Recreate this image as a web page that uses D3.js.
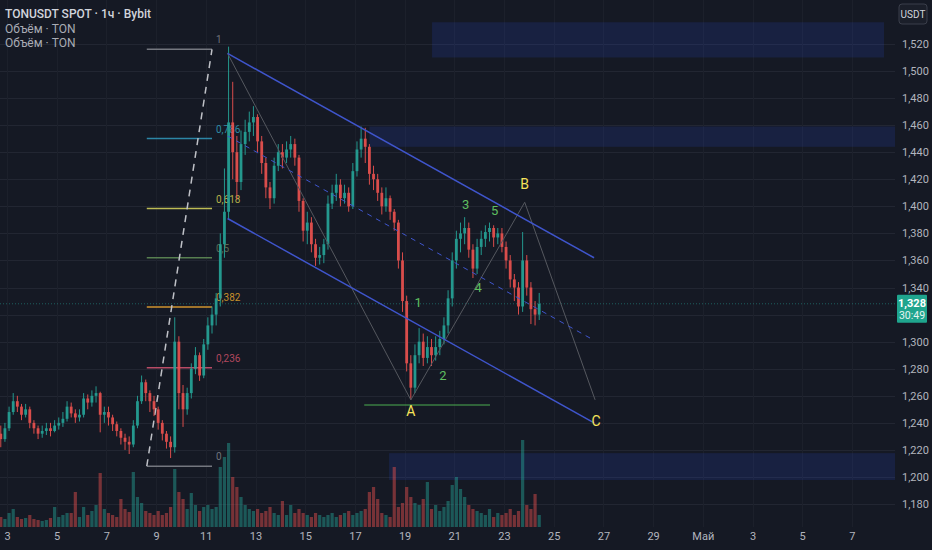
<!DOCTYPE html>
<html>
<head>
<meta charset="utf-8">
<style>
    body { margin: 0; background: #151924; }
    svg text { font-family: Roboto, "Noto Sans", sans-serif; }
    .axis text { fill: #b2b5be; font-size: 11px; }
    .axis path { display: none; }
</style>
<script src="https://d3js.org/d3.v7.min.js"></script>
</head>
<body>
<svg width="932" height="550"></svg>
<script>
// 4h bars, first bar opens Apr 2 16:00
var firstOpen = 1.232;
var closes = [
    1.228, 1.236,
    1.248, 1.256, 1.252, 1.246, 1.250, 1.240,
    1.236, 1.232, 1.234, 1.236, 1.234, 1.238,
    1.240, 1.243, 1.252, 1.247, 1.244, 1.246,
    1.258, 1.255, 1.260, 1.262, 1.246, 1.248,
    1.244, 1.239, 1.234, 1.229, 1.226, 1.224,
    1.238, 1.256, 1.270, 1.262, 1.256, 1.250,
    1.240, 1.232, 1.226, 1.222, 1.300, 1.262,
    1.250, 1.262, 1.280, 1.290, 1.275, 1.298,
    1.312, 1.320, 1.332, 1.372, 1.396, 1.462,
    1.440, 1.418, 1.446, 1.455, 1.462, 1.466,
    1.448, 1.432, 1.414, 1.406, 1.430, 1.440,
    1.436, 1.442, 1.446, 1.436, 1.404, 1.382,
    1.388, 1.372, 1.362, 1.364, 1.372, 1.402,
    1.410, 1.416, 1.406, 1.410, 1.400, 1.426,
    1.442, 1.450, 1.444, 1.424, 1.420, 1.410,
    1.400, 1.406, 1.396, 1.388, 1.360, 1.330,
    1.284, 1.266, 1.290, 1.300, 1.288, 1.296,
    1.290, 1.296, 1.302, 1.312, 1.332, 1.360,
    1.376, 1.380, 1.384, 1.368, 1.354, 1.370,
    1.376, 1.381, 1.384, 1.377, 1.380, 1.370,
    1.360, 1.346, 1.340, 1.326, 1.360, 1.340,
    1.324, 1.320, 1.328
];
var highs = [
    1.238, 1.240,
    1.252, 1.262, 1.260, 1.254, 1.254, 1.252,
    1.242, 1.238, 1.238, 1.240, 1.240, 1.242,
    1.244, 1.248, 1.256, 1.255, 1.250, 1.250,
    1.262, 1.261, 1.264, 1.267, 1.263, 1.252,
    1.252, 1.246, 1.241, 1.236, 1.232, 1.230,
    1.242, 1.260, 1.275, 1.272, 1.264, 1.260,
    1.252, 1.242, 1.234, 1.230, 1.318, 1.304,
    1.268, 1.266, 1.284, 1.296, 1.292, 1.302,
    1.318, 1.326, 1.336, 1.380, 1.428, 1.518,
    1.492, 1.452, 1.456, 1.464, 1.470, 1.474,
    1.468, 1.452, 1.436, 1.418, 1.436, 1.446,
    1.446, 1.448, 1.452, 1.450, 1.438, 1.406,
    1.396, 1.392, 1.376, 1.370, 1.376, 1.408,
    1.416, 1.424, 1.420, 1.416, 1.414, 1.432,
    1.448, 1.459, 1.458, 1.446, 1.430, 1.424,
    1.414, 1.414, 1.408, 1.398, 1.390, 1.366,
    1.334, 1.290, 1.298, 1.310, 1.306, 1.304,
    1.302, 1.304, 1.308, 1.318, 1.338, 1.366,
    1.382, 1.388, 1.392, 1.388, 1.372, 1.376,
    1.382, 1.386, 1.388, 1.386, 1.384, 1.384,
    1.374, 1.364, 1.350, 1.344, 1.381, 1.364,
    1.344, 1.330, 1.336
];
var lows = [
    1.222, 1.226,
    1.234, 1.246, 1.248, 1.242, 1.244, 1.236,
    1.232, 1.228, 1.229, 1.231, 1.230, 1.233,
    1.235, 1.237, 1.241, 1.244, 1.240, 1.241,
    1.244, 1.250, 1.252, 1.255, 1.233, 1.240,
    1.238, 1.234, 1.230, 1.224, 1.220, 1.217,
    1.222, 1.236, 1.254, 1.256, 1.248, 1.245,
    1.235, 1.227, 1.221, 1.214, 1.218, 1.250,
    1.237, 1.246, 1.258, 1.276, 1.271, 1.273,
    1.294, 1.306, 1.312, 1.326, 1.362, 1.390,
    1.420, 1.405, 1.412, 1.438, 1.448, 1.452,
    1.440, 1.424, 1.406, 1.398, 1.402, 1.426,
    1.428, 1.432, 1.436, 1.430, 1.396, 1.374,
    1.372, 1.366, 1.356, 1.357, 1.358, 1.368,
    1.398, 1.404, 1.400, 1.402, 1.396, 1.398,
    1.422, 1.436, 1.432, 1.416, 1.412, 1.404,
    1.394, 1.396, 1.390, 1.382, 1.354, 1.322,
    1.278, 1.257, 1.262, 1.284, 1.282, 1.284,
    1.282, 1.286, 1.290, 1.298, 1.306, 1.326,
    1.354, 1.366, 1.372, 1.362, 1.347, 1.350,
    1.364, 1.370, 1.374, 1.370, 1.372, 1.366,
    1.354, 1.340, 1.330, 1.320, 1.322, 1.334,
    1.313, 1.312, 1.316
];
var volumes = [
    10, 8,
    14, 18, 10, 8, 9, 12,
    8, 7, 6, 7, 9, 20,
    10, 12, 14, 14, 35, 10,
    20, 12, 16, 22, 54, 18,
    14, 12, 10, 28, 18, 15,
    55, 30, 24, 16, 14, 12,
    16, 12, 14, 20, 58, 35,
    28, 18, 34, 22, 16, 20,
    22, 18, 20, 60, 70, 84,
    50, 40, 30, 22, 18, 16,
    18, 14, 16, 20, 14, 12,
    26, 12, 22, 14, 18, 14,
    12, 10, 14, 12, 10, 12,
    14, 10, 12, 14, 16, 12,
    14, 16, 18, 35, 40, 28,
    14, 12, 10, 60, 20, 24,
    40, 30, 24, 22, 28, 45,
    18, 22, 16, 20, 26, 42,
    50, 38, 30, 22, 18, 16,
    14, 12, 18, 10, 14, 12,
    14, 18, 12, 16, 87, 22,
    18, 33, 12
];

var priceTicks = [1.18, 1.20, 1.22, 1.24, 1.26, 1.28, 1.30, 1.32, 1.34, 1.36, 1.38, 1.40, 1.42, 1.44, 1.46, 1.48, 1.50, 1.52];
var tickDates = ["2026-04-03", "2026-04-05", "2026-04-07", "2026-04-09", "2026-04-11", "2026-04-13", "2026-04-15",
                 "2026-04-17", "2026-04-19", "2026-04-21", "2026-04-23", "2026-04-25", "2026-04-27", "2026-04-29",
                 "2026-05-01", "2026-05-03", "2026-05-05", "2026-05-07"];
var tickLabels = ["3", "5", "7", "9", "11", "13", "15", "17", "19", "21", "23", "25", "27", "29", "Май", "3", "5", "7"];

// fibonacci retracement
var fibLevels = [0, 0.236, 0.382, 0.5, 0.618, 0.786, 1];
var fibLineColors = ["#74777f", "#b84c66", "#cf932e", "#577f50", "#bdbb55", "#2c86a6", "#74777f"];
var fibTextColors = ["#6f727a", "#b2485e", "#c78f2a", "#5b6b55", "#b5b14a", "#2f8ca5", "#6f727a"];
var fibLabels = ["0", "0,236", "0,382", "0,5", "0,618", "0,786", "1"];
var fibLow = 1.208, fibHigh = 1.516;
var fibStart = "2026-04-08T15:00", fibEnd = "2026-04-11T06:00";

// channel
var chanTimes = ["2026-04-11T21:00", "2026-04-26T15:00"];
var chanUpper = [1.513, 1.362];
var chanLower = [1.391, 1.240];

// wave path top -> A -> B -> C
var waveTimes = ["2026-04-11T21:00", "2026-04-19T06:00", "2026-04-23T20:00", "2026-04-26T16:00"];
var wavePrices = [1.513, 1.257, 1.403, 1.257];

var abcLabels = ["A", "B", "C"];
var abcTimes = ["2026-04-19T06:00", "2026-04-23T20:00", "2026-04-26T17:00"];
var abcPrices = [1.2488, 1.4165, 1.2414];

var waveNums = ["1", "2", "3", "4", "5"];
var waveNumTimes = ["2026-04-19T13:00", "2026-04-20T13:00", "2026-04-21T11:00", "2026-04-21T23:00", "2026-04-22T15:00"];
var waveNumPrices = [1.3293, 1.2754, 1.4017, 1.3404, 1.3966];

var supportLine = { from: "2026-04-17T09:00", to: "2026-04-22T10:30", price: 1.2532 };

// zones: [start, end (null = extend right), top, bottom]
var zoneStarts = ["2026-04-20T02:30", "2026-04-17T14:00", "2026-04-18T09:00"];
var zoneEnds = ["2026-05-08T07:00", null, null];
var zoneTops = [1.536, 1.459, 1.2176];
var zoneBottoms = [1.510, 1.444, 1.1978];

var lastPrice = 1.328;
var countdown = "30:49";

function load() {
    var svg = d3.select("svg"),
        width = 932, height = 550,
        plotRight = 895, plotBottom = 527;

    var parse = function (s) { return new Date(s.length > 10 ? s : s + "T00:00"); };
    var startTime = parse("2026-04-02T16:00");

    var x = d3.scaleTime()
        .domain([parse("2026-04-03"), parse("2026-05-07")])
        .range([7, 851.9]);
    var y = d3.scaleLinear().domain([1.2, 1.5]).range([477, 71]);
    var yv = d3.scaleLinear().domain([0, 100]).range([plotBottom, 427]);

    svg.append("rect").attr("width", width).attr("height", height).attr("fill", "#151924");

    var clip = svg.append("defs").append("clipPath").attr("id", "plot");
    clip.append("rect").attr("x", 0).attr("y", 0).attr("width", plotRight).attr("height", plotBottom);

    // grid
    var grid = svg.append("g");
    grid.selectAll(".hg").data(priceTicks).enter().append("line")
        .attr("x1", 0).attr("x2", plotRight)
        .attr("y1", function (d) { return Math.round(y(d)) + 0.5; })
        .attr("y2", function (d) { return Math.round(y(d)) + 0.5; })
        .attr("stroke", "#222632").attr("stroke-width", 1);
    grid.selectAll(".vg").data(tickDates).enter().append("line")
        .attr("y1", 0).attr("y2", plotBottom)
        .attr("x1", function (d) { return Math.round(x(parse(d))) + 0.5; })
        .attr("x2", function (d) { return Math.round(x(parse(d))) + 0.5; })
        .attr("stroke", "#1c202b").attr("stroke-width", 1);

    var plot = svg.append("g").attr("clip-path", "url(#plot)");

    // zones
    plot.selectAll(".zone").data(zoneStarts).enter().append("rect")
        .attr("x", function (d) { return x(parse(d)); })
        .attr("y", function (d, i) { return y(zoneTops[i]); })
        .attr("width", function (d, i) {
            var x2 = zoneEnds[i] ? x(parse(zoneEnds[i])) : plotRight;
            return x2 - x(parse(d));
        })
        .attr("height", function (d, i) { return y(zoneBottoms[i]) - y(zoneTops[i]); })
        .attr("fill", "#2a50d8").attr("fill-opacity", 0.17);

    // volume
    var barTime = function (i, off) { return d3.timeHour.offset(startTime, 4 * i + off); };
    var isUp = function (i) { return closes[i] >= (i === 0 ? firstOpen : closes[i - 1]); };
    plot.selectAll(".vol").data(volumes).enter().append("rect")
        .attr("x", function (d, i) { return x(barTime(i, 2)) - 1.6; })
        .attr("width", 3.2)
        .attr("y", function (d) { return yv(d); })
        .attr("height", function (d) { return plotBottom - yv(d); })
        .attr("fill", function (d, i) { return isUp(i) ? "#26a69a" : "#ef5350"; })
        .attr("fill-opacity", 0.45);

    // fib retracement
    var fibPrice = function (l) { return fibLow + (fibHigh - fibLow) * l; };
    var fib = plot.append("g");
    fib.selectAll("line").data(fibLevels).enter().append("line")
        .attr("x1", x(parse(fibStart))).attr("x2", x(parse(fibEnd)))
        .attr("y1", function (d) { return y(fibPrice(d)); })
        .attr("y2", function (d) { return y(fibPrice(d)); })
        .attr("stroke", function (d, i) { return fibLineColors[i]; })
        .attr("stroke-width", 1.5);
    fib.selectAll("text").data(fibLevels).enter().append("text")
        .attr("x", x(parse(fibEnd)) + 4)
        .attr("y", function (d) { return y(fibPrice(d)) - 6; })
        .attr("fill", function (d, i) { return fibTextColors[i]; })
        .attr("font-size", "10px")
        .text(function (d, i) { return fibLabels[i]; });
    fib.append("line")
        .attr("x1", x(parse(fibStart))).attr("y1", y(fibLow))
        .attr("x2", x(parse(fibEnd))).attr("y2", y(fibHigh))
        .attr("stroke", "#bfc1c7").attr("stroke-width", 1.5)
        .attr("stroke-dasharray", "7,6");

    // candles
    var candles = plot.selectAll(".candle").data(closes).enter().append("g")
        .attr("opacity", 0.9);
    candles.append("line")
        .attr("x1", function (d, i) { return x(barTime(i, 2)); })
        .attr("x2", function (d, i) { return x(barTime(i, 2)); })
        .attr("y1", function (d, i) { return y(highs[i]); })
        .attr("y2", function (d, i) { return y(lows[i]); })
        .attr("stroke", function (d, i) { return isUp(i) ? "#26a69a" : "#ef5350"; })
        .attr("stroke-width", 1);
    candles.append("rect")
        .attr("x", function (d, i) { return x(barTime(i, 2)) - 1.4; })
        .attr("width", 2.8)
        .attr("y", function (d, i) {
            var o = i === 0 ? firstOpen : closes[i - 1];
            return y(Math.max(o, d));
        })
        .attr("height", function (d, i) {
            var o = i === 0 ? firstOpen : closes[i - 1];
            return Math.max(1, Math.abs(y(o) - y(d)));
        })
        .attr("fill", function (d, i) { return isUp(i) ? "#26a69a" : "#ef5350"; });

    // last price line
    plot.append("line")
        .attr("x1", 0).attr("x2", plotRight)
        .attr("y1", y(lastPrice)).attr("y2", y(lastPrice))
        .attr("stroke", "#26a69a").attr("stroke-opacity", 0.5)
        .attr("stroke-dasharray", "1,2");

    // wave path
    var line = d3.line()
        .x(function (d) { return x(parse(d[0])); })
        .y(function (d) { return y(d[1]); });
    plot.append("path")
        .attr("d", line(waveTimes.map(function (t, i) { return [t, wavePrices[i]]; })))
        .attr("fill", "none").attr("stroke", "#55585f").attr("stroke-width", 1);

    // channel
    var chanMid = [(chanUpper[0] + chanLower[0]) / 2, (chanUpper[1] + chanLower[1]) / 2];
    [chanUpper, chanLower, chanMid].forEach(function (c, k) {
        plot.append("path")
            .attr("d", line([[chanTimes[0], c[0]], [chanTimes[1], c[1]]]))
            .attr("fill", "none")
            .attr("stroke", "#3f55cc")
            .attr("stroke-width", k === 2 ? 1 : 1.5)
            .attr("stroke-dasharray", k === 2 ? "5,5" : null);
    });

    // support under A
    plot.append("line")
        .attr("x1", x(parse(supportLine.from))).attr("x2", x(parse(supportLine.to)))
        .attr("y1", y(supportLine.price)).attr("y2", y(supportLine.price))
        .attr("stroke", "#4caf50").attr("stroke-width", 1);

    // wave labels
    plot.selectAll(".abc").data(abcLabels).enter().append("text")
        .attr("x", function (d, i) { return x(parse(abcTimes[i])); })
        .attr("y", function (d, i) { return y(abcPrices[i]); })
        .attr("dy", "0.35em")
        .attr("text-anchor", "middle")
        .attr("fill", "#f7e35a").attr("font-size", "14px")
        .text(function (d) { return d; });
    plot.selectAll(".num").data(waveNums).enter().append("text")
        .attr("x", function (d, i) { return x(parse(waveNumTimes[i])); })
        .attr("y", function (d, i) { return y(waveNumPrices[i]); })
        .attr("dy", "0.35em")
        .attr("text-anchor", "middle")
        .attr("fill", "#5fbf60").attr("font-size", "13px")
        .text(function (d) { return d; });

    // price axis
    var fmt = function (d) { return d3.format(".3f")(d).replace(".", ","); };
    svg.append("g").attr("class", "axis")
        .attr("transform", "translate(898,0)")
        .call(d3.axisRight(y).tickValues(priceTicks.filter(function (d) { return Math.abs(d - 1.32) > 0.001; }))
            .tickSize(0).tickPadding(4).tickFormat(fmt));

    // time axis
    svg.append("g").attr("class", "axis")
        .attr("transform", "translate(0," + plotBottom + ")")
        .call(d3.axisBottom(x).tickValues(tickDates.map(parse))
            .tickSize(0).tickPadding(5)
            .tickFormat(function (d, i) { return tickLabels[i]; }));

    // last price label
    var lp = svg.append("g").attr("transform", "translate(897," + (y(lastPrice) - 9) + ")");
    lp.append("rect").attr("width", 30).attr("height", 28).attr("rx", 1).attr("fill", "#1fa58e");
    lp.append("text").attr("x", 15).attr("y", 12).attr("text-anchor", "middle")
        .attr("fill", "#ffffff").attr("font-size", "11px").attr("font-weight", "bold").text(fmt(lastPrice));
    lp.append("text").attr("x", 15).attr("y", 24).attr("text-anchor", "middle")
        .attr("fill", "#e6f4f1").attr("font-size", "10.5px").text(countdown);

    // currency badge
    var cb = svg.append("g").attr("transform", "translate(899,4)");
    cb.append("rect").attr("width", 28).attr("height", 20).attr("rx", 3)
        .attr("fill", "#1b1f2a").attr("stroke", "#3a3e4a");
    cb.append("text").attr("x", 14).attr("y", 14).attr("text-anchor", "middle")
        .attr("fill", "#d1d4dc").attr("font-size", "10px").text("USDT");

    // legend
    var legend = svg.append("g").attr("transform", "translate(5,0)");
    legend.append("text").attr("y", 18).attr("fill", "#d1d4dc").attr("font-size", "12px")
        .attr("font-weight", 500).text("TONUSDT SPOT · 1ч · Bybit");
    legend.append("text").attr("y", 33).attr("fill", "#a9acb5").attr("font-size", "12px").text("Объём · TON");
    legend.append("text").attr("y", 47).attr("fill", "#a9acb5").attr("font-size", "12px").text("Объём · TON");
}
load();
</script>
</body>
</html>
